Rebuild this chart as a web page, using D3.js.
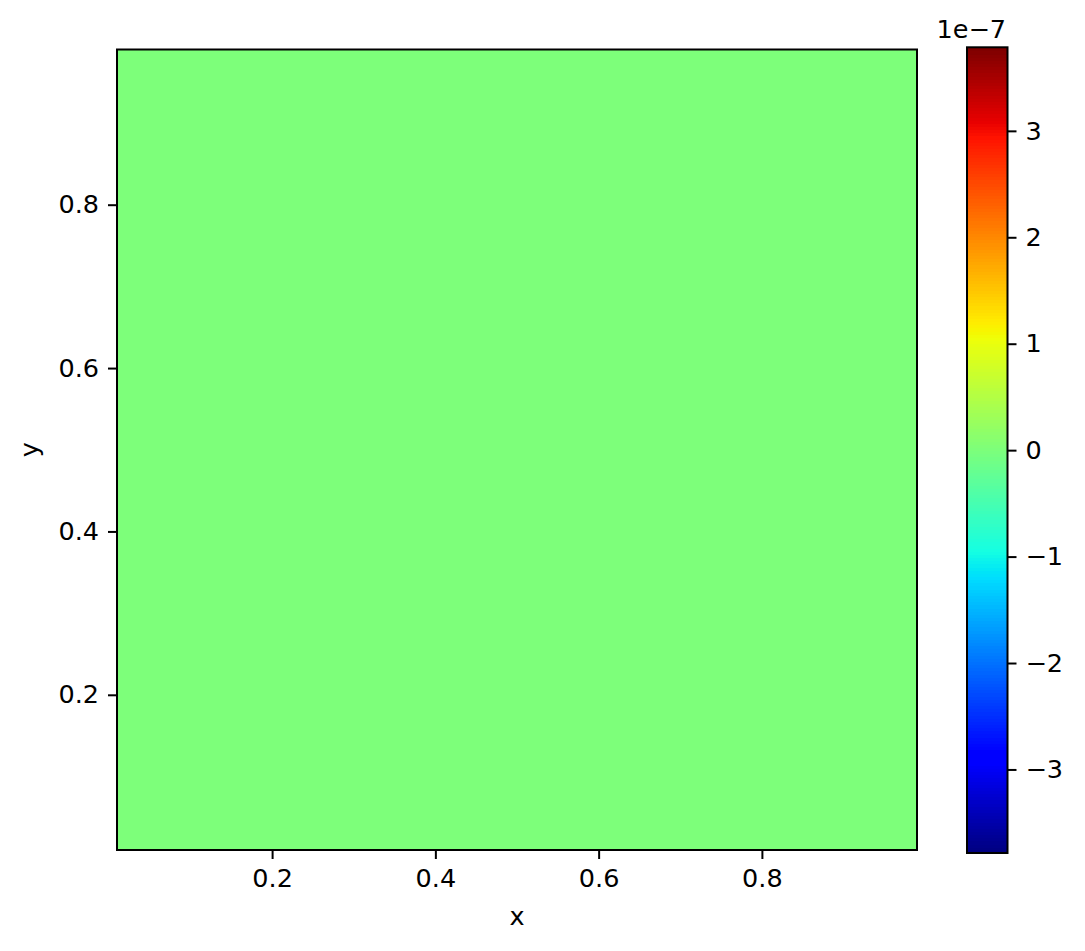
<!DOCTYPE html>
<html>
<head>
<meta charset="utf-8">
<script src="https://cdn.jsdelivr.net/npm/d3@7"></script>
<style>
  body { margin: 0; background: #fff; }
  svg text { font-family: "DejaVu Sans", sans-serif; fill: #000; }
</style>
</head>
<body>
<script>
  // field values (all zero) on a grid covering the extent below
  const field = [
    [0, 0, 0, 0],
    [0, 0, 0, 0],
    [0, 0, 0, 0],
    [0, 0, 0, 0]
  ];
  const xExtent = [0.01, 0.99];
  const yExtent = [0.01, 0.99];
  const xTicks = [0.2, 0.4, 0.6, 0.8];
  const yTicks = [0.2, 0.4, 0.6, 0.8];
  const cbarRange = [-3.785e-7, 3.785e-7];
  const cbarTicks = [-3, -2, -1, 0, 1, 2, 3];
  const cbarExponent = -7;

  // matplotlib jet segment data
  const jetR = [[0, 0], [0.35, 0], [0.66, 1], [0.89, 1], [1, 0.5]];
  const jetG = [[0, 0], [0.125, 0], [0.375, 1], [0.64, 1], [0.91, 0], [1, 0]];
  const jetB = [[0, 0.5], [0.11, 1], [0.34, 1], [0.65, 0], [1, 0]];

  const seg = (pts, t) => {
    const s = d3.scaleLinear().domain(pts.map(p => p[0])).range(pts.map(p => p[1])).clamp(true);
    return s(t);
  };
  const jet = t => {
    // quantise to a 256 entry table like matplotlib
    const i = Math.min(255, Math.max(0, Math.floor(t * 256)));
    const u = i / 255;
    return d3.rgb(seg(jetR, u) * 255, seg(jetG, u) * 255, seg(jetB, u) * 255).formatHex();
  };

  const W = 1085, H = 951;
  const fs = 25.5;
  const tickLen = 9, tickPad = 9;

  const svg = d3.select("body").append("svg")
    .attr("width", W)
    .attr("height", H);

  // main axes
  const ax = { left: 117, right: 917, top: 49.5, bottom: 850 };
  const x = d3.scaleLinear().domain(xExtent).range([ax.left, ax.right]);
  const y = d3.scaleLinear().domain(yExtent).range([ax.bottom, ax.top]);
  const norm = d3.scaleLinear().domain(cbarRange).range([0, 1]);

  const nRows = field.length, nCols = field[0].length;
  const cx = d3.scaleLinear().domain([0, nCols]).range(xExtent);
  const cy = d3.scaleLinear().domain([0, nRows]).range(yExtent);

  const cells = [];
  field.forEach((row, r) => row.forEach((v, c) => cells.push({ r, c, v })));
  svg.append("g").attr("shape-rendering", "crispEdges").selectAll("rect")
    .data(cells)
    .enter().append("rect")
    .attr("x", d => x(cx(d.c)))
    .attr("y", d => y(cy(d.r + 1)))
    .attr("width", d => x(cx(d.c + 1)) - x(cx(d.c)) + 0.5)
    .attr("height", d => y(cy(d.r)) - y(cy(d.r + 1)) + 0.5)
    .attr("fill", d => jet(norm(d.v)));

  // x axis
  const xAxis = d3.axisBottom(x).tickValues(xTicks).tickSize(tickLen).tickPadding(tickPad)
    .tickFormat(d3.format(".1f"));
  const gx = svg.append("g").attr("transform", `translate(0,${ax.bottom})`).call(xAxis);
  // y axis
  const yAxis = d3.axisLeft(y).tickValues(yTicks).tickSize(tickLen).tickPadding(tickPad)
    .tickFormat(d3.format(".1f"));
  const gy = svg.append("g").attr("transform", `translate(${ax.left},0)`).call(yAxis);

  [gx, gy].forEach(g => {
    g.select(".domain").remove();
    g.selectAll(".tick line").attr("stroke", "#000").attr("stroke-width", 2);
    g.selectAll(".tick text").attr("font-size", fs).attr("font-family", "DejaVu Sans");
  });
  gx.selectAll(".tick text").attr("dy", null).attr("y", tickLen + tickPad + 19);

  svg.append("rect")
    .attr("x", ax.left).attr("y", ax.top)
    .attr("width", ax.right - ax.left).attr("height", ax.bottom - ax.top)
    .attr("fill", "none").attr("stroke", "#000").attr("stroke-width", 2);

  // axis labels
  svg.append("text")
    .attr("x", (ax.left + ax.right) / 2).attr("y", 925)
    .attr("text-anchor", "middle").attr("font-size", fs)
    .text("x");
  svg.append("text")
    .attr("transform", `translate(38,${(ax.top + ax.bottom) / 2}) rotate(-90)`)
    .attr("text-anchor", "middle").attr("font-size", fs)
    .text("y");

  // colorbar
  const cb = { left: 967, right: 1007.5, top: 47.3, bottom: 853 };
  const cbY = d3.scaleLinear().domain(cbarRange).range([cb.bottom, cb.top]);
  const levels = d3.range(256);
  const lev = d3.scaleLinear().domain([0, 256]).range(cbarRange);
  svg.append("g").attr("shape-rendering", "crispEdges").selectAll("rect")
    .data(levels)
    .enter().append("rect")
    .attr("x", cb.left)
    .attr("y", d => cbY(lev(d + 1)))
    .attr("width", cb.right - cb.left)
    .attr("height", d => cbY(lev(d)) - cbY(lev(d + 1)) + 1)
    .attr("fill", d => jet((d + 0.5) / 256));

  const scale = Math.pow(10, cbarExponent);
  const cAxis = d3.axisRight(cbY)
    .tickValues(cbarTicks.map(t => t * scale))
    .tickSize(tickLen).tickPadding(tickPad)
    .tickFormat(d => {
      const v = Math.round(d / scale);
      return v < 0 ? "\u2212" + Math.abs(v) : String(v);
    });
  const gc = svg.append("g").attr("transform", `translate(${cb.right},0)`).call(cAxis);
  gc.select(".domain").remove();
  gc.selectAll(".tick line").attr("stroke", "#000").attr("stroke-width", 2);
  gc.selectAll(".tick text").attr("font-size", fs).attr("font-family", "DejaVu Sans");

  svg.append("rect")
    .attr("x", cb.left).attr("y", cb.top)
    .attr("width", cb.right - cb.left).attr("height", cb.bottom - cb.top)
    .attr("fill", "none").attr("stroke", "#000").attr("stroke-width", 2);

  svg.append("text")
    .attr("x", 1006).attr("y", 38)
    .attr("text-anchor", "end").attr("font-size", fs)
    .text("1e\u2212" + Math.abs(cbarExponent));
</script>
</body>
</html>
